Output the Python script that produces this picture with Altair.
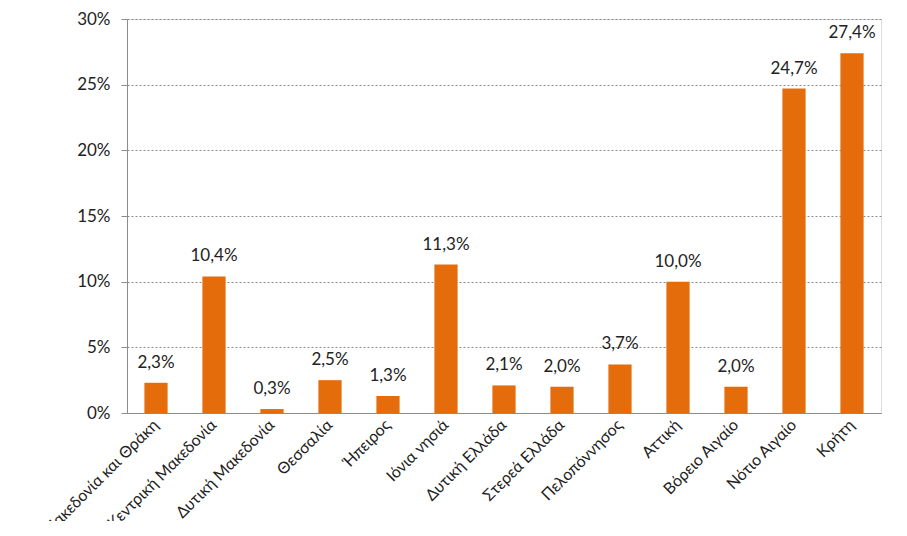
import altair as alt
import pandas as pd

regions = ["Ανατολική Μακεδονία και Θράκη", "Κεντρική Μακεδονία", "Δυτική Μακεδονία",
           "Θεσσαλία", "Ήπειρος", "Ιόνια νησιά", "Δυτική Ελλάδα", "Στερεά Ελλάδα",
           "Πελοπόννησος", "Αττική", "Βόρειο Αιγαίο", "Νότιο Αιγαίο", "Κρήτη"]
values = [2.3, 10.4, 0.3, 2.5, 1.3, 11.3, 2.1, 2.0, 3.7, 10.0, 2.0, 24.7, 27.4]

df = pd.DataFrame({"region": regions, "v": [x / 100 for x in values]})

FONT = "Lato"

base = alt.Chart(df).encode(
    x=alt.X("region:N", sort=regions, title=None,
            scale=alt.Scale(paddingInner=0.6, paddingOuter=0.3),
            axis=alt.Axis(labelAngle=-45, labelAlign="right", labelBaseline="middle",
                          labelFontSize=16, labelColor="#222222", labelFont=FONT,
                          ticks=False, domainColor="#8c8c8c", labelPadding=9,
                          grid=False, labelLimit=400)),
    y=alt.Y("v:Q", title=None,
            scale=alt.Scale(domain=[0, 0.30], nice=False),
            axis=alt.Axis(values=[0, 0.05, 0.10, 0.15, 0.20, 0.25, 0.30], format=".0%",
                          labelFontSize=17, labelColor="#222222", labelFont=FONT,
                          tickSize=6, tickColor="#8c8c8c", domainColor="#8c8c8c",
                          labelPadding=11, grid=True, gridColor="#8c8c8c",
                          gridDash=[2, 2], gridWidth=1)),
)

bars = base.mark_bar(color="#E46C0A")
labels = base.mark_text(dy=-20, fontSize=17, font=FONT, color="#222222").transform_calculate(
    lab="replace(format(datum.v, '.1%'), '.', ',')"
).encode(text="lab:N")

chart = (bars + labels).properties(
    width=754, height=394,
    autosize=alt.AutoSizeParams(type="none"),
    padding={"left": 119, "top": 11, "right": 12, "bottom": 108},
).configure_view(stroke=None).configure(background="white")

chart.save("out.html", embed_options={"renderer": "svg", "actions": False})
